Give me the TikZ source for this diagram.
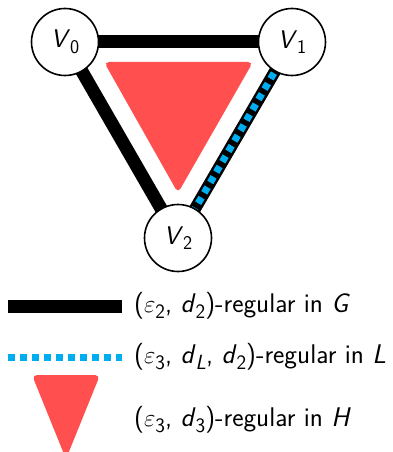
\documentclass[tikz,border=0pt]{standalone}
\usetikzlibrary{positioning}
\usetikzlibrary{backgrounds}

\definecolor{blobred}{HTML}{FF4F4F}
\definecolor{linkblue}{HTML}{00AEEF}

% sans italic symbol with lowered upright subscript
\newcommand{\subs}[1]{\raisebox{-0.22em}{\scalebox{0.76}{#1}}}
\newcommand{\sv}[2]{\textit{#1}\subs{#2}}
\newcommand{\eps}[1]{$\varepsilon$\subs{#1}}

\begin{document}
\begin{tikzpicture}[
        x = 1pt, y = -1pt, % pixel grid, y down
        vertex/.style = {circle, draw, line width=1.6pt, fill=white,
                         minimum size=67pt, inner sep=0pt,
                         font=\fontsize{25.5}{29}\selectfont\sffamily},
        edgeG/.style = {line width=13pt}, % black edge
        edgeLbase/.style = {line width=12pt},
        edgeL/.style = {linkblue, line width=7pt, dash pattern=on 6.5pt off 5.5pt},
        blob/.style = {fill=blobred, rounded corners=5pt},
        legtext/.style = {anchor=west, inner sep=0pt,
                          font=\fontsize{27}{31}\selectfont\sffamily}
        ]
  \useasboundingbox (0,0) rectangle (393,452);

  \node[vertex] (V0) at (65,42) {\sv{V}{0}};
  \node[vertex] (V1) at (292,42) {\sv{V}{1}};
  \node[vertex] (V2) at (178,238) {\sv{V}{2}};

  \begin{scope}[on background layer]
    \fill[blob] (104,62) -- (253,62) -- (178,193) -- cycle;
    \draw[edgeG] (V0.center) -- (V1.center);
    \draw[edgeG] (V0.center) -- (V2.center);
    \draw[edgeLbase] (V1.center) -- (V2.center);
    \draw[edgeL] (V1.center) -- (V2.center);
  \end{scope}

  % legend
  \coordinate (gA) at (8,306);
  \coordinate (gB) at (122,306);
  \coordinate (lA) at (8,357);
  \coordinate (lB) at (122,357);

  \draw[edgeG] (gA) -- (gB);
  \draw[edgeL] (lA) -- (lB);
  \fill[blob] (32,375) -- (100,375) -- (66,459) -- cycle;

  \node[legtext] (textG) at (134,306) {(\eps{2}, \sv{d}{2})-regular in \textit{G}};
  \node[legtext] (textL) at (134,357) {(\eps{3}, \sv{d}{\textit{L}}, \sv{d}{2})-regular in \textit{L}};
  \node[legtext] (textH) at (134,420) {(\eps{3}, \sv{d}{3})-regular in \textit{H}};

\end{tikzpicture}
\end{document}
